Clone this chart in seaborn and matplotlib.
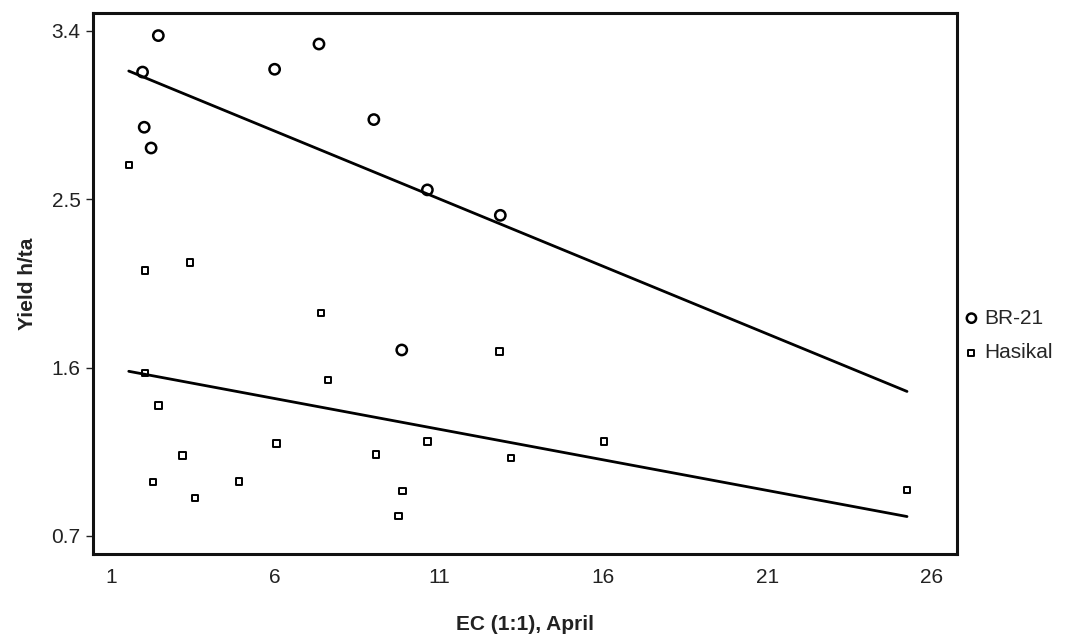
import numpy as np
import pandas as pd
import matplotlib
matplotlib.use("Agg")
import matplotlib.pyplot as plt
import seaborn as sns

# EC (1:1) in April vs yield, two rice varieties
br21_ec = [2.45, 7.34, 1.97, 5.99, 9.01, 2.02, 2.23, 10.64, 12.86, 9.86]
br21_yield = [3.375, 3.33, 3.18, 3.195, 2.926, 2.885, 2.774, 2.55, 2.414, 1.694]

hasikal_ec = [1.55, 3.41, 2.05, 7.40, 12.84, 2.05, 7.62, 2.45, 6.05, 10.64,
              3.19, 9.07, 13.19, 2.29, 4.90, 3.57, 9.88, 9.76, 16.02, 25.24]
hasikal_yield = [2.682, 2.163, 2.12, 1.892, 1.685, 1.57, 1.534, 1.396, 1.195, 1.204,
                 1.129, 1.134, 1.117, 0.988, 0.99, 0.903, 0.939, 0.805, 1.204, 0.945]

x_ticks = [1, 6, 11, 16, 21, 26]
y_ticks = [0.7, 1.6, 2.5, 3.4]

br = pd.DataFrame({"ec": br21_ec, "yield": br21_yield})
ha = pd.DataFrame({"ec": hasikal_ec, "yield": hasikal_yield})

sns.set_theme(style="white")
plt.rcParams['font.family'] = ['Liberation Sans', 'DejaVu Sans']

fig = plt.figure(figsize=(10.66, 6.39), dpi=100)
ax = fig.add_axes([0.0872, 0.133, 0.8105, 0.8467])

sns.scatterplot(data=br, x="ec", y="yield", marker="o", s=55, facecolors="none",
                edgecolor="black", linewidth=1.8, ax=ax, label="BR-21", zorder=3)
sns.scatterplot(data=ha, x="ec", y="yield", marker="s", s=22, facecolors="none",
                edgecolor="black", linewidth=1.4, ax=ax, label="Hasikal", zorder=3)

# fitted lines span the full EC range of both series
all_ec = br21_ec + hasikal_ec
ax.set_xlim(min(all_ec), max(all_ec))
for d in (br, ha):
    sns.regplot(data=d, x="ec", y="yield", scatter=False, ci=None, truncate=False,
                color="black", line_kws={"linewidth": 2}, ax=ax)

ax.set_xlim(0.46, 26.76)
ax.set_ylim(0.603, 3.496)
ax.set_xticks(x_ticks)
ax.set_yticks(y_ticks)
ax.set_yticklabels([f"{v:.1f}" for v in y_ticks])
ax.tick_params(axis="x", length=0, labelsize=15, pad=10, colors="#222222")
ax.tick_params(axis="y", length=5, width=1, left=True, direction="out", labelsize=15, pad=4, colors="#222222")

for sp in ax.spines.values():
    sp.set_linewidth(2.2)
    sp.set_color("#111111")

ax.set_xlabel("EC (1:1), April", fontsize=15, fontweight="bold", labelpad=20, color="#222222")
ax.set_ylabel("Yield h/ta", fontsize=15, fontweight="bold", labelpad=10, color="#222222")

ax.legend(loc="center left", bbox_to_anchor=(0.983, 0.404), frameon=False, fontsize=15,
          handletextpad=0.1, labelspacing=0.75, handlelength=1.0, markerscale=0.9)

plt.savefig("out.png", dpi=100)
